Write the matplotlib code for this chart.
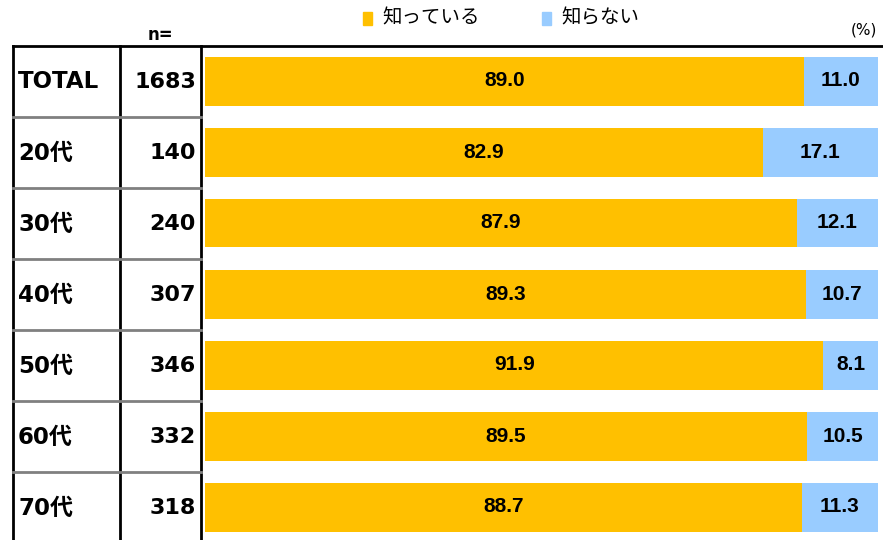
import matplotlib.pyplot as plt
from matplotlib.lines import Line2D
from matplotlib.patches import Rectangle


groups = ["TOTAL", "20代", "30代", "40代", "50代", "60代", "70代"]
counts = [1683, 140, 240, 307, 346, 332, 318]
knowValues = [89.0, 82.9, 87.9, 89.3, 91.9, 89.5, 88.7]
notKnowValues = [11.0, 17.1, 12.1, 10.7, 8.1, 10.5, 11.3]
seriesNames = ["知っている", "知らない"]

GOLD = "#FFC000"
BLUE = "#99CCFF"
W, H = 883, 540
ROW0, ROWSTEP = 81, 71
JP = ["DejaVu Sans", "Noto Sans CJK JP"]

figure = plt.figure(figsize=(W / 100, H / 100), dpi=100)

# bars axes, x in percent, y in row index
axes = figure.add_axes([205 / W, 0, 673 / W, 1])
axes.set_xlim(0, 100)
axes.set_ylim((H - ROW0) / ROWSTEP, -ROW0 / ROWSTEP)
axes.axis("off")

rows = range(len(groups))
axes.barh(rows, knowValues, height=49 / ROWSTEP, color=GOLD)
axes.barh(rows, notKnowValues, left=knowValues, height=49 / ROWSTEP, color=BLUE)

for i in rows:
    axes.text(knowValues[i] / 2, i, f"{knowValues[i]:.1f}", ha="center", va="center",
              fontsize=15, fontweight="bold", family="Liberation Sans")
    axes.text(knowValues[i] + notKnowValues[i] / 2, i, f"{notKnowValues[i]:.1f}",
              ha="center", va="center", fontsize=15, fontweight="bold", family="Liberation Sans")


def fx(px):
    return px / W


def fy(py):
    return 1 - py / H


# table lines
figure.add_artist(Line2D([fx(13), fx(883)], [fy(46), fy(46)], color="black", lw=2))
for x in [13, 120, 201]:
    figure.add_artist(Line2D([fx(x), fx(x)], [fy(46), fy(540)], color="black", lw=2))
for i in range(1, len(groups)):
    y = 46 + ROWSTEP * i
    figure.add_artist(Line2D([fx(13), fx(201)], [fy(y), fy(y)], color="#808080", lw=2))

for i in rows:
    y = fy(ROW0 + ROWSTEP * i + 1)
    figure.text(fx(18), y, groups[i], ha="left", va="center", fontsize=16.5,
                fontweight="bold", family=JP)
    figure.text(fx(196), y, str(counts[i]), ha="right", va="center", fontsize=16,
                fontweight="bold", family=JP)

figure.text(fx(160), fy(35), "n=", ha="center", va="center", fontsize=12, fontweight="bold")

# legend
for x0, color, name in [(363, GOLD, seriesNames[0]), (542, BLUE, seriesNames[1])]:
    figure.add_artist(Rectangle((fx(x0), fy(25)), 9 / W, 13 / H, color=color,
                                transform=figure.transFigure))
    figure.text(fx(x0 + 19), fy(18), name, ha="left", va="center", fontsize=14,
                family=["Noto Sans CJK JP", "DejaVu Sans"])

figure.text(fx(877), fy(30), "(%)", ha="right", va="center", fontsize=11,
            family="DejaVu Sans")

figure.savefig("out.png", dpi=100)
